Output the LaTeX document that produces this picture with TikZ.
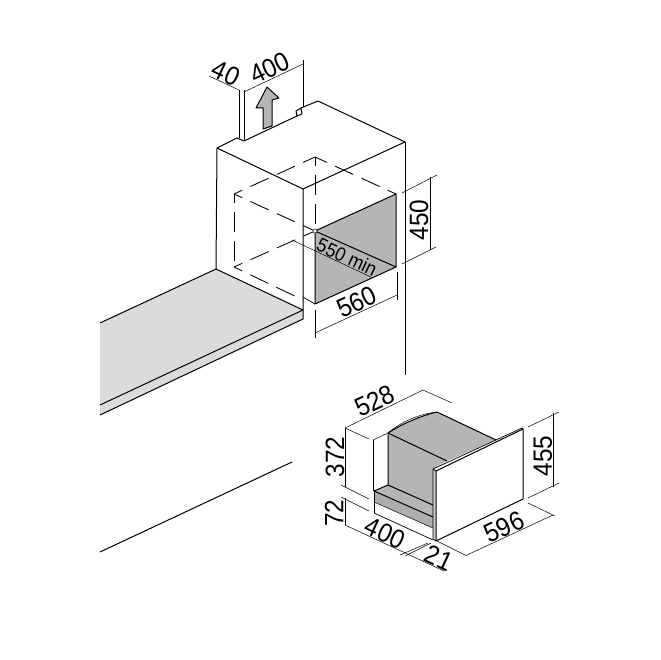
\documentclass[tikz,border=0pt]{standalone}
\usepackage{fontspec}
\setmainfont[FakeStretch=0.92]{Liberation Sans}
\usetikzlibrary{calc}
\definecolor{wallgray}{gray}{0.71}
\definecolor{stepgray}{gray}{0.68}
\definecolor{topgray}{gray}{0.86}
\definecolor{edgegray}{gray}{0.8}
\tikzstyle{outline}=[line width=1pt,line join=round]
\tikzstyle{fineline}=[line width=0.7pt,line join=round]
\tikzstyle{hidden}=[line width=0.85pt,dash pattern=on 20pt off 9pt,dash phase=11pt]
\tikzstyle{dimline}=[line width=0.5pt]
\tikzstyle{dimtext}=[font=\fontsize{26.5}{26.5}\selectfont,inner sep=0pt]
\tikzstyle{smalltext}=[font=\fontsize{19.5}{19.5}\selectfont,inner sep=0pt]
\begin{document}
\begin{tikzpicture}[x=1pt,y=-1pt]
		\useasboundingbox (0,0) rectangle (660,660);
		% corners of the niche
		\coordinate (topleft) at (217,148);
		\coordinate (topfront) at (303,189);
		\coordinate (topright) at (405,142);
		\coordinate (topback) at (318,101);
		\coordinate (nichea) at (315,231);
		\coordinate (nicheb) at (396,194);
		\coordinate (nichec) at (396,267);
		\coordinate (niched) at (315,304);
		% corners of the drawer
		\coordinate (wallback) at (388,433);
		\coordinate (wallrear) at (437,412);
		\coordinate (wallright) at (496,440);
		\coordinate (wallfront) at (447,461);
		\coordinate (panela) at (433,469);
		\coordinate (panelb) at (522,428);
		\coordinate (panelc) at (523,499);
		\coordinate (paneld) at (436,541);
		\coordinate (panele) at (433,539);
		\coordinate (panelf) at (436,471);
		
		% fills
		\fill[topgray] (100,323) -- (216,269) -- (303,310) -- (303,319) -- (100,415) -- cycle;
		\fill[wallgray] (nichea) -- (nicheb) -- (nichec) -- (niched) -- cycle;
		\fill[wallgray] (wallback) .. controls (402,424) and (420,416) .. (wallrear) -- (wallright) -- (wallfront) -- (panela) -- (433,505) -- (388,486) -- cycle;
		\fill[wallgray] (374,491) -- (388,485) -- (433,505) -- (433,517) -- cycle;
		\fill[stepgray] (374,491) -- (433,517) -- (433,528) -- (374,502) -- cycle;
		
		% niche and worktop
		\draw[outline] (topleft) -- (topfront) -- (topright) -- (topback) -- (301,108) -- (302,114) -- (297,116) -- (296,111) -- (301,108);
		\draw[outline] (297,116) -- (244,141) -- (237,138) -- (topleft);
		\draw[outline] (topleft) -- (216,269);
		\draw[outline] (topfront) -- (303,319) -- (100,415);
		\draw[outline] (topright) -- (405,375);
		\draw[outline] (100,323) -- (216,269) -- (303,310) -- (100,405);
		\draw[outline] (100,552) -- (292,462);
		\draw[outline] (nichea) -- (nicheb) -- (nichec) -- (niched) -- cycle;
		\draw[outline] (nichea) -- (nichec);
		\draw[fineline] (303,297) -- (niched);
		
		% hidden edges
		\draw[hidden] (234,194) -- (315,157);
		\draw[hidden] (nicheb) -- (315,157);
		\draw[hidden] (234,194) -- (nichea);
		\draw[hidden] (234,194) -- (234,267);
		\draw[hidden] (315,157) -- (nichea);
		\draw[hidden] (234,267) -- (nichea);
		\draw[hidden] (234,267) -- (303,300);
		\draw[dimline,fill=white] (nichea) circle (2pt);
		
		% arrow
		\draw[outline,fill=wallgray] (263,129) -- (263,108) -- (256,108) -- (267,87) -- (279,98) -- (272,100) -- (272,126) -- cycle;
		
		% drawer
		\draw[outline] (wallback) -- (wallfront);
		\draw[outline] (wallrear) -- (wallright);
		\draw[outline] (wallback) -- (388,485) -- (433,505);
		\draw[outline] (wallback) .. controls (402,424) and (420,416) .. (wallrear);
		\draw[dimline] (wallback) .. controls (402,421) and (420,414) .. (wallrear);
		\draw[dimline] (373,440) -- (wallback);
		\draw[dimline] (373,440) -- (373,491);
		\draw[outline] (374,491) -- (388,485);
		\draw[outline] (374,491) -- (433,517);
		\draw[dimline] (374,491) -- (374,513);
		\draw[dimline] (374,502) -- (433,528);
		\draw[fineline] (374,513) -- (433,540);
		\fill[edgegray] (panela) -- (panelf) -- (paneld) -- (panele) -- cycle;
		\draw[outline,fill=white] (panelf) -- (523,429) -- (panelc) -- (paneld) -- cycle;
		\draw[fineline] (panela) -- (panelb) -- (523,429);
		\draw[fineline] (panela) -- (panelf);
		\draw[fineline] (panela) -- (panele) -- (paneld);
		
		% dimensions of the niche
		\draw[dimline] (209,76) -- (239,90);
		\draw[dimline] (239,90) -- (239,138);
		\draw[dimline] (244,92) -- (303,64);
		\draw[dimline] (244,90) -- (244,140);
		\draw[dimline] (303,60) -- (303,107);
		\draw[dimline] (430,177) -- (430,250);
		\draw[dimline] (402,193) -- (437,175);
		\draw[dimline] (402,264) -- (436,247);
		\draw[dimline] (315,333) -- (397,295);
		\draw[dimline] (315,310) -- (315,338);
		\draw[dimline] (397,272) -- (397,300);
		\draw[dimline] (292,240) -- (373,278);
		\node[dimtext,rotate=-25] (labelforty) at (226,73) {40};
		\node[dimtext,rotate=25] (labelfourhundred) at (270,68) {400};
		\node[dimtext,rotate=90] (labelheight) at (419,220) {450};
		\node[dimtext,rotate=25] (labelwidth) at (357,302) {560};
		\node[smalltext,rotate=-25] (labeldepth) at (347,257) {550 min};
		
		% dimensions of the drawer
		\draw[dimline] (345,428) -- (423,390);
		\draw[dimline] (345,428) -- (369,439);
		\draw[dimline] (423,390) -- (452,403);
		\draw[dimline] (345,428) -- (345,487);
		\draw[dimline] (341,485) -- (369,499);
		\draw[dimline] (345,498) -- (345,525);
		\draw[dimline] (341,497) -- (369,511);
		\draw[dimline] (345,525) -- (444,571);
		\draw[dimline] (400,555) -- (428,543);
		\draw[dimline] (405,556) -- (431,543);
		\draw[dimline] (467,555) -- (553,515);
		\draw[dimline] (437,541) -- (467,556);
		\draw[dimline] (528,503) -- (555,516);
		\draw[dimline] (553,413) -- (553,487);
		\draw[dimline] (528,427) -- (559,412);
		\draw[dimline] (528,498) -- (559,483);
		\node[dimtext,rotate=25] (labeldrawer) at (375,401) {528};
		\node[dimtext,rotate=90] (labelwall) at (335,457) {372};
		\node[dimtext,rotate=90] (labelbase) at (334,513) {72};
		\node[dimtext,rotate=-25] (labelside) at (385,533) {400};
		\node[dimtext,rotate=-25] (labelpanel) at (439,558) {21};
		\node[dimtext,rotate=25] (labelfront) at (504,527) {596};
		\node[dimtext,rotate=90] (labeltall) at (543,456) {455};
\end{tikzpicture}
\end{document}
